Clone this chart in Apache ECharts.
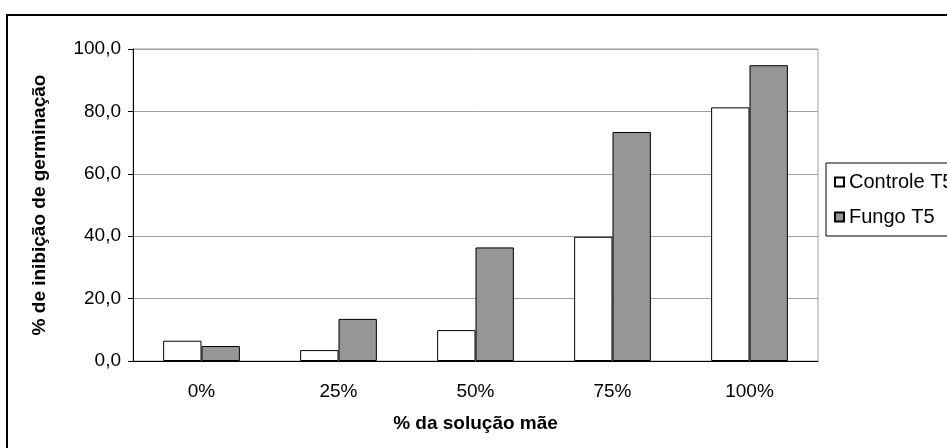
<!DOCTYPE html>
<html>
<head>
<meta charset="utf-8">
<script src="https://cdn.jsdelivr.net/npm/echarts@6/dist/echarts.min.js"></script>
<style>
  html, body { margin: 0; padding: 0; background: #fff; }
  #chart { width: 947px; height: 448px; }
</style>
</head>
<body>
<div id="chart"></div>
<script>
// Concentration levels of the stock solution
const categories = ['0%', '25%', '50%', '75%', '100%'];
// Germination inhibition (%) per treatment
const controleT5 = [6.5, 3.5, 9.9, 39.8, 81.3];
const fungoT5 = [4.8, 13.5, 36.4, 73.4, 94.8];
const seriesNames = ['Controle T5', 'Fungo T5'];

const FONT = 'Liberation Sans, Arial, sans-serif';
const chart = echarts.init(document.getElementById('chart'), null, { renderer: 'canvas' });

const barStyle = (fill) => ({ color: fill, borderColor: '#000', borderWidth: 1 });

chart.setOption({
  backgroundColor: '#fff',
  animation: false,
  graphic: [{
    type: 'rect',
    shape: { x: 7, y: 15, width: 1000, height: 500 },
    style: { fill: 'none', stroke: '#000', lineWidth: 2 },
    silent: true
  }],
  grid: {
    left: 133, right: 129, top: 49, bottom: 87,
    show: true, borderColor: '#a0a0a0', borderWidth: 1, backgroundColor: 'transparent'
  },
  legend: {
    orient: 'vertical',
    left: 826, top: 163,
    padding: [9, 20, 9, 8],
    itemGap: 15,
    itemWidth: 9, itemHeight: 9,
    icon: 'rect',
    borderColor: '#000', borderWidth: 1,
    backgroundColor: '#fff',
    textStyle: { fontFamily: FONT, fontSize: 20, color: '#000' },
    data: seriesNames
  },
  xAxis: {
    type: 'category',
    data: categories,
    name: '% da solução mãe',
    nameLocation: 'middle',
    nameGap: 53,
    nameTextStyle: { fontFamily: FONT, fontSize: 19, fontWeight: 'bold', color: '#000' },
    axisLine: { lineStyle: { color: '#000', width: 1 } },
    axisTick: { length: 6, lineStyle: { color: '#000' } },
    axisLabel: { fontFamily: FONT, fontSize: 19, color: '#000', margin: 21 }
  },
  yAxis: {
    type: 'value',
    min: 0, max: 100, interval: 20,
    name: '% de inibição de germinação',
    nameLocation: 'middle',
    nameGap: 84,
    nameTextStyle: { fontFamily: FONT, fontSize: 19, fontWeight: 'bold', color: '#000' },
    axisLine: { show: true, lineStyle: { color: '#000', width: 1 } },
    axisTick: { show: true, length: 5, lineStyle: { color: '#000' } },
    axisLabel: {
      fontFamily: FONT, fontSize: 19, color: '#000', margin: 12,
      formatter: (v) => v.toFixed(1).replace('.', ',')
    },
    splitLine: { show: true, lineStyle: { color: '#a0a0a0', width: 1 } }
  },
  series: [
    {
      name: seriesNames[0], type: 'bar', data: controleT5,
      barGap: '0%', barCategoryGap: '44%',
      itemStyle: barStyle('#ffffff')
    },
    {
      name: seriesNames[1], type: 'bar', data: fungoT5,
      barGap: '0%', barCategoryGap: '44%',
      itemStyle: barStyle('#969696')
    }
  ]
});
</script>
</body>
</html>
